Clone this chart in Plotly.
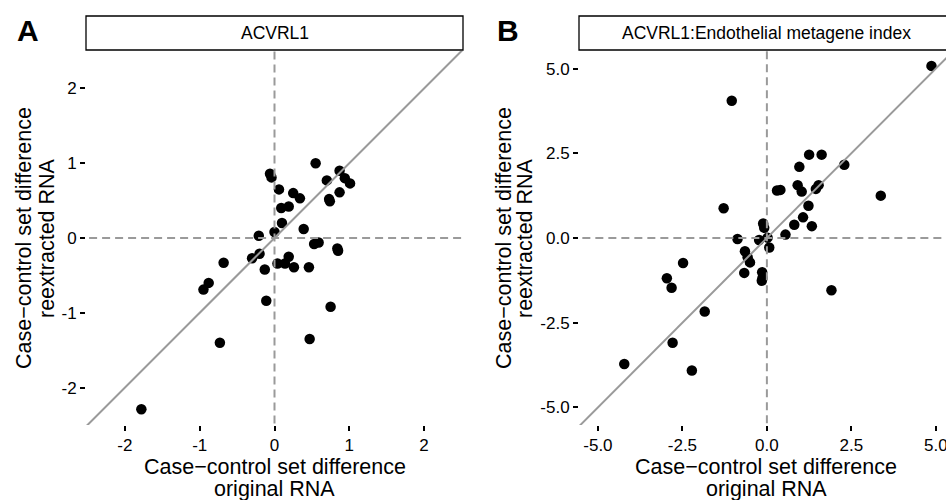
import plotly.graph_objects as go

# ---- data ----
a_orig = [0.55, -0.06, -0.04, 0.06, 0.25, 0.34, 0.09, 0.19, 0.10, 0.00, -0.21, 0.39, 0.53, 0.59,
          0.84, 0.85, 0.70, 0.87, 0.94, 1.01, 0.87, 0.73, 0.74, -0.20, -0.30, 0.04, 0.14, 0.19,
          0.26, 0.46, -0.13, -0.68, -0.88, -0.95, -0.11, 0.75, -0.73, 0.47, -1.78]
a_reex = [1.00, 0.86, 0.81, 0.65, 0.60, 0.53, 0.40, 0.42, 0.20, 0.08, 0.03, 0.12, -0.08, -0.06,
          -0.14, -0.17, 0.77, 0.90, 0.80, 0.73, 0.61, 0.52, 0.49, -0.21, -0.27, -0.34, -0.34, -0.25,
          -0.39, -0.39, -0.42, -0.33, -0.60, -0.69, -0.84, -0.92, -1.40, -1.35, -2.29]

b_orig = [4.87, -1.04, 1.25, 1.62, 2.29, 0.96, 3.37, 0.30, 0.40, 0.91, 1.03, 1.45, 1.53, 1.23,
          1.07, 1.33, 0.81, 0.55, -1.28, -0.11, -0.08, -0.87, -0.23, 0.02, 0.07, -0.65, -0.57,
          -0.50, -0.67, -0.14, -0.15, -0.13, 1.91, -2.48, -2.96, -2.82, -1.84, -2.79, -4.22, -2.22]
b_reex = [5.08, 4.05, 2.46, 2.46, 2.16, 2.10, 1.25, 1.40, 1.42, 1.56, 1.37, 1.45, 1.56, 0.95,
          0.61, 0.35, 0.39, 0.10, 0.88, 0.43, 0.30, -0.03, -0.06, 0.01, -0.28, -0.39, -0.57,
          -0.72, -1.03, -1.01, -1.26, -1.18, -1.54, -0.74, -1.19, -1.47, -2.17, -3.09, -3.72, -3.91]

a_ticks = [-2, -1, 0, 1, 2]
a_ticktext = ["-2", "-1", "0", "1", "2"]
b_ticks = [-5.0, -2.5, 0.0, 2.5, 5.0]
b_ticktext = ["-5.0", "-2.5", "0.0", "2.5", "5.0"]

titles = ["ACVRL1", "ACVRL1:Endothelial metagene index"]
panel_labels = ["A", "B"]
x_title = ["Case\u2212control set difference", "original RNA"]
y_title = ["Case\u2212control set difference", "reextracted RNA"]

# ---- layout helpers ----
W, H = 946, 500
FONT = "Liberation Sans, Arial, Helvetica, sans-serif"
px = lambda v: v / W
py = lambda v: 1 - v / H

GREY = "#9a9a9a"

fig = go.Figure()

# points
fig.add_trace(go.Scatter(x=a_orig, y=a_reex, mode="markers", xaxis="x", yaxis="y",
                         marker=dict(color="black", size=10.5), showlegend=False, hoverinfo="x+y"))
fig.add_trace(go.Scatter(x=b_orig, y=b_reex, mode="markers", xaxis="x2", yaxis="y2",
                         marker=dict(color="black", size=10.5), showlegend=False, hoverinfo="x+y"))

# identity and zero reference lines (clipped to the panels)
for xa, ya, lim in [("x", "y", 3), ("x2", "y2", 7)]:
    fig.add_trace(go.Scatter(x=[-lim, lim], y=[-lim, lim], mode="lines", xaxis=xa, yaxis=ya,
                             line=dict(color=GREY, width=2), showlegend=False, hoverinfo="skip"))
    fig.add_trace(go.Scatter(x=[0, 0], y=[-lim, lim], mode="lines", xaxis=xa, yaxis=ya,
                             line=dict(color=GREY, width=2, dash="8px,5px"), showlegend=False,
                             hoverinfo="skip"))
    fig.add_trace(go.Scatter(x=[-lim, lim], y=[0, 0], mode="lines", xaxis=xa, yaxis=ya,
                             line=dict(color=GREY, width=2, dash="8px,5px"), showlegend=False,
                             hoverinfo="skip"))

axis_common = dict(showgrid=False, zeroline=False, showline=False, ticks="outside",
                   ticklen=5, tickwidth=2, tickcolor="black", ticklabeloverflow="allow",
                   tickfont=dict(family=FONT, size=17, color="black"), automargin=False)

ydom = [py(425), py(51)]
fig.update_layout(
    width=W, height=H, margin=dict(l=0, r=0, t=0, b=0),
    paper_bgcolor="white", plot_bgcolor="white", showlegend=False,
    xaxis=dict(domain=[px(86), px(463)], range=[-2.52, 2.52], tickvals=a_ticks,
               ticktext=a_ticktext, anchor="y", **axis_common),
    yaxis=dict(domain=ydom, range=[-2.5, 2.5], tickvals=a_ticks, ticktext=a_ticktext,
               anchor="x", **axis_common),
    xaxis2=dict(domain=[px(579), 1.0], range=[-5.56, 5.30], tickvals=b_ticks,
                ticktext=b_ticktext, anchor="y2", **axis_common),
    yaxis2=dict(domain=ydom, range=[-5.52, 5.52], tickvals=b_ticks, ticktext=b_ticktext,
                anchor="x2", **axis_common),
)

shapes = []
annotations = []
strips = [(86, 463, 274.5), (579, 960, 766)]
ytitle_x = [(24, 47), (504, 525)]
panel_label_x = [28, 508]
for i in range(2):
    x0, x1, xc = strips[i]
    shapes.append(dict(type="rect", xref="paper", yref="paper", x0=px(x0), x1=px(x1),
                       y0=py(50), y1=py(16), line=dict(color="black", width=1.3),
                       fillcolor="white", layer="above"))
    annotations.append(dict(text=titles[i], xref="paper", yref="paper", x=px(xc), y=py(33),
                            xanchor="center", yanchor="middle", showarrow=False,
                            font=dict(family=FONT, size=17.5, color="black")))
    annotations.append(dict(text="<b>%s</b>" % panel_labels[i], xref="paper", yref="paper",
                            x=px(panel_label_x[i]), y=py(30), xanchor="center",
                            yanchor="middle", showarrow=False,
                            font=dict(family=FONT, size=30, color="black")))
    for j, yy in enumerate([467, 489]):
        annotations.append(dict(text=x_title[j], xref="paper", yref="paper", x=px(xc), y=py(yy),
                                xanchor="center", yanchor="middle", showarrow=False,
                                font=dict(family=FONT, size=21.5, color="black")))
    for j, xx in enumerate(ytitle_x[i]):
        annotations.append(dict(text=y_title[j], xref="paper", yref="paper", x=px(xx), y=py(238),
                                xanchor="center", yanchor="middle", showarrow=False,
                                textangle=-90,
                                font=dict(family=FONT, size=21.5, color="black")))

fig.update_layout(shapes=shapes, annotations=annotations)
fig.write_html("out.html", config={"displayModeBar": False},
               post_script="document.body.style.margin='0';document.body.style.overflow='hidden';")
